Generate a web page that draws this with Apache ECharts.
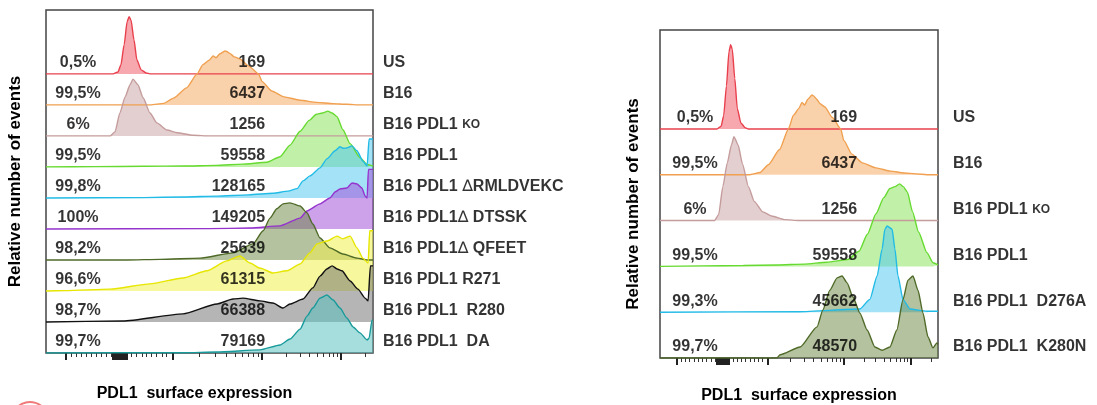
<!DOCTYPE html>
<html>
<head>
<meta charset="utf-8">
<title>PDL1 surface expression</title>
<script src="https://cdn.jsdelivr.net/npm/echarts@6/dist/echarts.min.js"></script>
<style>
  html, body { margin: 0; padding: 0; background: #fff; }
  #main { width: 1097px; height: 405px; }
</style>
</head>
<body>
<div id="main"></div>
<script>
// ---- data: rows top -> bottom ----
var leftNames = ['US', 'B16', 'B16 PDL1 KO', 'B16 PDL1', 'B16 PDL1 ∆RMLDVEKC', 'B16 PDL1∆ DTSSK',
                 'B16 PDL1∆ QFEET', 'B16 PDL1 R271', 'B16 PDL1  R280', 'B16 PDL1  DA']
var leftPct = ['0,5%', '99,5%', '6%', '99,5%', '99,8%', '100%', '98,2%', '96,6%', '98,7%', '99,7%']
var leftMfi = ['169', '6437', '1256', '59558', '128165', '149205', '25639', '61315', '66388', '79169']

var rightNames = ['US', 'B16', 'B16 PDL1 KO', 'B16 PDL1', 'B16 PDL1  D276A', 'B16 PDL1  K280N']
var rightPct = ['0,5%', '99,5%', '6%', '99,5%', '99,3%', '99,7%']
var rightMfi = ['169', '6437', '1256', '59558', '45662', '48570']

// histograms: [channel 0..1000, height in row units]
var usHist = [[0,0],[205,0],[220,0.06],[229,0.29],[239,0.94],[248,1.68],[254,1.84],[260,1.74],[269,1.1],
  [278,0.45],[291,0.13],[306,0.03],[318,0],[1000,0]]
var b16Hist = [[0,0],[320,0],[360,0.05],[390,0.22],[430,0.55],[462,1.0],[480,1.3],[500,1.45],[511,1.58],
  [520,1.52],[532,1.65],[547,1.74],[553,1.72],[562,1.66],[576,1.55],[593,1.48],[620,1.25],[650,1.0],
  [661,0.75],[690,0.45],[728,0.26],[777,0.15],[829,0.08],[878,0.04],[920,0.02],[960,0],[1000,0]]
var koHist = [[0,0],[196,0],[211,0.13],[226,0.74],[242,1.26],[257,1.65],[266,1.83],[281,1.65],[297,1.23],
  [318,0.74],[339,0.42],[370,0.19],[401,0.1],[450,0.02],[500,0],[1000,0]]
var pdl1Hist = [[0,0],[150,0.01],[300,0.02],[420,0.03],[520,0.05],[600,0.09],[676,0.15],[716,0.33],
  [746,0.7],[777,1.15],[805,1.5],[827,1.7],[845,1.74],[862,1.8],[875,1.74],[890,1.62],[908,1.2],
  [930,0.75],[960,0.3],[982,0.08],[1000,0.03]]
var rmldHist = [[0,0],[300,0.01],[420,0.03],[523,0.06],[620,0.1],[694,0.15],[740,0.22],[768,0.3],
  [786,0.55],[807,0.71],[838,0.97],[859,1.26],[884,1.52],[899,1.65],[910,1.6],[920,1.61],[936,1.68],
  [951,1.52],[969,1.19],[982,1.03],[988,1.9],[1000,1.9]]
var dtsskHist = [[0,0],[500,0.01],[624,0.03],[716,0.1],[777,0.35],[798,0.58],[838,0.81],[868,1.0],
  [885,1.2],[899,1.29],[920,1.32],[936,1.48],[951,1.45],[966,1.32],[976,1.06],[982,1.0],[986,1.92],[1000,1.92]]
var qfeetHist = [[0,0],[248,0],[350,0.02],[471,0.06],[572,0.23],[633,0.52],[664,0.94],[685,1.35],
  [706,1.65],[725,1.81],[746,1.84],[777,1.74],[798,1.52],[816,1.16],[838,0.71],[868,0.39],[908,0.19],
  [951,0.06],[982,0],[1000,0]]
var r271Hist = [[0,0],[60,0.01],[196,0.06],[318,0.23],[419,0.42],[492,0.65],[553,0.97],[593,1.13],
  [624,0.9],[654,0.74],[694,0.58],[737,0.65],[777,0.87],[807,1.23],[829,1.52],[859,1.61],[890,1.77],
  [908,1.68],[930,1.77],[951,1.39],[969,1.06],[985,0.9],[990,1.94],[1000,1.94]]
var r280Hist = [[0,0],[235,0.03],[419,0.26],[523,0.58],[572,0.74],[602,0.77],[654,0.68],[694,0.61],
  [725,0.45],[746,0.58],[786,0.74],[816,1.1],[838,1.48],[859,1.71],[875,1.81],[890,1.71],[905,1.65],
  [930,1.32],[954,1.06],[976,0.77],[985,0.68],[992,1.81],[1000,1.81]]
var daHist = [[0,0],[420,0.01],[523,0.03],[654,0.1],[716,0.26],[746,0.45],[777,0.77],[798,1.19],
  [816,1.45],[838,1.77],[859,1.87],[878,1.71],[899,1.45],[920,1.13],[939,0.84],[960,0.65],[982,0.42],
  [988,0.48],[997,1.06],[1000,1.06]]
var d276aHist = [[0,0],[500,0.01],[719,0.07],[755,0.28],[781,0.79],[799,1.38],[809,1.81],[817,1.88],
  [835,1.81],[845,1.38],[856,0.79],[874,0.28],[899,0.07],[960,0.02],[1000,0.02]]
var k280nHist = [[0,0],[420,0],[432,0.07],[504,0.24],[565,0.68],[586,1.05],[611,1.48],[637,1.75],
  [655,1.79],[673,1.64],[694,1.33],[719,0.98],[745,0.61],[773,0.24],[799,0.17],[827,0.24],[852,0.61],
  [874,1.27],[892,1.7],[910,1.79],[928,1.48],[946,0.98],[964,0.46],[982,0.22],[996,0.33],[1000,0.3]]

var leftHists = [usHist, b16Hist, koHist, pdl1Hist, rmldHist, dtsskHist, qfeetHist, r271Hist, r280Hist, daHist]
var rightHists = [usHist, b16Hist, koHist, pdl1Hist, d276aHist, k280nHist]

// axis ticks (channel units)
var majorTicks = [61, 205, 210, 214, 219, 223, 228, 232, 237, 241, 246, 387, 661, 902]
var linearTicks = [76, 92, 107, 122, 138, 153, 168, 183, 199, 262, 277, 293, 308, 323, 338, 354, 369]
var decades = [[387, 274], [661, 241], [902, 241]]

// ---- styles ----
var C = {
  us:   { line: '#e8404c', fill: 'rgba(240,100,112,0.8)' },
  b16:  { line: '#f0a050', fill: 'rgba(245,180,115,0.85)' },
  ko:   { line: '#c59c9c', fill: 'rgba(208,175,175,0.85)' },
  pdl1: { line: '#66da30', fill: 'rgba(145,230,100,0.8)' },
  cyan: { line: '#22bbe6', fill: 'rgba(80,200,240,0.75)' },
  purp: { line: '#9533cc', fill: 'rgba(165,90,220,0.8)' },
  oliv: { line: '#4f6a28', fill: 'rgba(105,130,62,0.7)' },
  yell: { line: '#e6e600', fill: 'rgba(240,240,80,0.8)' },
  gray: { line: '#111111', fill: 'rgba(115,115,115,0.75)' },
  teal: { line: '#189a9a', fill: 'rgba(85,190,190,0.75)' }
}
var leftStyles = [C.us, C.b16, C.ko, C.pdl1, C.cyan, C.purp, C.oliv, C.yell, C.gray, C.teal]
var rightStyles = [C.us, C.b16, C.ko, C.pdl1, C.cyan, C.oliv]

var FONT = "'Liberation Sans', Arial, sans-serif"

var minorTicks = linearTicks.slice()
decades.forEach(function (d) {
  for (var k = 2; k <= 9; k++) {
    var v = d[0] + d[1] * Math.log10(k)
    if (v <= 1000) minorTicks.push(Math.round(v))
  }
})

function nameRich(s) {
  return s.replace(' KO', ' {k|KO}').replace('∆', '{d|∆}')
}

function histSeries(hist, base, st, g) {
  return {
    type: 'line', xAxisIndex: g * 2, yAxisIndex: g,
    data: hist.map(function (p) { return [p[0], base + p[1]] }),
    symbol: 'none', smooth: 0.2, smoothMonotone: 'x', silent: true,
    lineStyle: { color: st.line, width: 1.4 },
    areaStyle: { color: st.fill, origin: base }
  }
}

function labelSeries(g, n, x, texts, align, dx, fmt) {
  var data = []
  for (var i = 0; i < n; i++) data.push([x, n - 1 - i])
  return {
    type: 'scatter', xAxisIndex: g * 2, yAxisIndex: g, symbolSize: 1, silent: true, z: 10,
    itemStyle: { color: 'rgba(0,0,0,0)' },
    data: data,
    label: {
      show: true, position: 'inside', align: align, verticalAlign: 'middle', offset: [dx, -11],
      color: '#000', fontSize: 16, fontWeight: 'bold', fontFamily: FONT,
      formatter: function (p) { return fmt ? fmt(texts[p.dataIndex]) : texts[p.dataIndex] },
      rich: {
        k: { fontSize: 12, fontWeight: 'bold', fontFamily: FONT, color: '#000' },
        d: { fontSize: 16, fontWeight: 'normal', fontFamily: 'DejaVu Sans', color: '#000' }
      }
    }
  }
}

function xAxes(g, nameGap, pad) {
  var common = {
    type: 'value', gridIndex: g, min: 0, max: 1000, position: 'bottom',
    axisLine: { show: false }, splitLine: { show: false }, axisLabel: { show: false }
  }
  return [
    Object.assign({}, common, {
      axisTick: { show: true, customValues: majorTicks, length: 7, lineStyle: { color: '#222', width: 2 } }
    }),
    Object.assign({}, common, {
      name: 'PDL1  surface expression', nameLocation: 'middle', nameGap: nameGap,
      nameTextStyle: { fontSize: 16, fontWeight: 'bold', color: '#000', fontFamily: FONT, padding: pad },
      axisTick: { show: true, customValues: minorTicks, length: 4, lineStyle: { color: '#333', width: 1 } }
    })
  ]
}

function yAxis(g, max, gap, pad) {
  return {
    type: 'value', gridIndex: g, min: 0, max: max,
    axisLine: { show: false }, axisTick: { show: false }, axisLabel: { show: false }, splitLine: { show: false },
    name: 'Relative number of events', nameLocation: 'middle', nameGap: gap, nameRotate: 90,
    nameTextStyle: { fontSize: 17, fontWeight: 'bold', color: '#000', fontFamily: FONT, padding: pad }
  }
}

var series = []
leftHists.forEach(function (h, i) { series.push(histSeries(h, leftHists.length - 1 - i, leftStyles[i], 0)) })
rightHists.forEach(function (h, i) { series.push(histSeries(h, rightHists.length - 1 - i, rightStyles[i], 1)) })
series.push(labelSeries(0, 10, 98, leftPct, 'center', 0))
series.push(labelSeries(0, 10, 670, leftMfi, 'right', 0))
series.push(labelSeries(0, 10, 1000, leftNames, 'left', 10, nameRich))
series.push(labelSeries(1, 6, 126, rightPct, 'center', 0))
series.push(labelSeries(1, 6, 709, rightMfi, 'right', 0))
series.push(labelSeries(1, 6, 1000, rightNames, 'left', 15, nameRich))

var chart = echarts.init(document.getElementById('main'))
chart.setOption({
  animation: false,
  backgroundColor: '#fff',
  grid: [
    { left: 46, top: 10, width: 327, height: 343, show: true, backgroundColor: '#fff', borderColor: '#444', borderWidth: 1.5,
      outerBoundsMode: 'none', containLabel: false },
    { left: 660, top: 30, width: 278, height: 328, show: true, backgroundColor: '#fff', borderColor: '#444', borderWidth: 1.5,
      outerBoundsMode: 'none', containLabel: false }
  ],
  xAxis: xAxes(0, 33, [0, 30, 0, 0]).concat(xAxes(1, 30, 0)),
  yAxis: [yAxis(0, 11.06, 22, [0, 0, 0, 0]), yAxis(1, 7.16, 18, [0, 20, 0, 0])],
  graphic: [
    { type: 'arc', shape: { cx: 14, cy: 418, r: 14, startAngle: Math.PI * 0.9, endAngle: Math.PI * 1.3 },
      style: { stroke: '#f07a7a', lineWidth: 2, fill: null } },
    { type: 'arc', shape: { cx: 30, cy: 420, r: 18, startAngle: Math.PI * 1.1, endAngle: Math.PI * 1.85 },
      style: { stroke: '#f07a7a', lineWidth: 2, fill: null } }
  ],
  series: series
})
</script>
</body>
</html>
